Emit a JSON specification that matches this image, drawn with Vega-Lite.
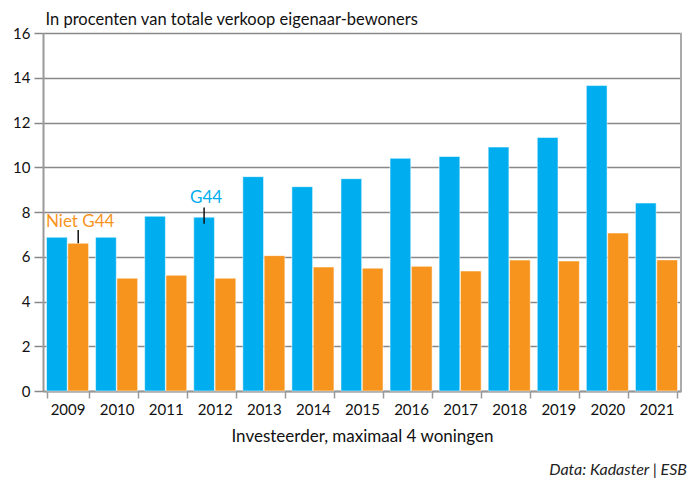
{
  "$schema": "https://vega.github.io/schema/vega-lite/v6.json",
  "width": 638,
  "height": 358,
  "autosize": {"type": "none"},
  "padding": {"left": 43, "top": 33, "right": 14, "bottom": 96},
  "background": "white",
  "config": {
    "font": "Lato",
    "view": {"stroke": null},
    "axis": {"labelFont": "Lato", "titleFont": "Lato", "labelColor": "#111", "titleColor": "#111"}
  },
  "title": {
    "text": "Data: Kadaster | ESB",
    "orient": "bottom",
    "anchor": "end",
    "frame": "group",
    "fontStyle": "italic",
    "fontWeight": "normal",
    "fontSize": 16,
    "color": "#222",
    "offset": 18,
    "dx": 6
  },
  "datasets": {
    "bars": [
      {"year": "2009", "group": "G44", "value": 6.87},
      {"year": "2009", "group": "Niet G44", "value": 6.6},
      {"year": "2010", "group": "G44", "value": 6.87},
      {"year": "2010", "group": "Niet G44", "value": 5.04},
      {"year": "2011", "group": "G44", "value": 7.81},
      {"year": "2011", "group": "Niet G44", "value": 5.17},
      {"year": "2012", "group": "G44", "value": 7.77},
      {"year": "2012", "group": "Niet G44", "value": 5.04},
      {"year": "2013", "group": "G44", "value": 9.58},
      {"year": "2013", "group": "Niet G44", "value": 6.05},
      {"year": "2014", "group": "G44", "value": 9.13},
      {"year": "2014", "group": "Niet G44", "value": 5.54},
      {"year": "2015", "group": "G44", "value": 9.49},
      {"year": "2015", "group": "Niet G44", "value": 5.49},
      {"year": "2016", "group": "G44", "value": 10.4},
      {"year": "2016", "group": "Niet G44", "value": 5.57},
      {"year": "2017", "group": "G44", "value": 10.48},
      {"year": "2017", "group": "Niet G44", "value": 5.36},
      {"year": "2018", "group": "G44", "value": 10.9},
      {"year": "2018", "group": "Niet G44", "value": 5.85},
      {"year": "2019", "group": "G44", "value": 11.33},
      {"year": "2019", "group": "Niet G44", "value": 5.81},
      {"year": "2020", "group": "G44", "value": 13.65},
      {"year": "2020", "group": "Niet G44", "value": 7.06},
      {"year": "2021", "group": "G44", "value": 8.4},
      {"year": "2021", "group": "Niet G44", "value": 5.86}
    ],
    "notes": [
      {"year": "2009", "group": "Niet G44", "label": "Niet G44", "lo": 6.6, "hi": 7.2, "ty": 7.33},
      {"year": "2012", "group": "G44", "label": "G44", "lo": 7.48, "hi": 8.2, "ty": 8.42}
    ]
  },
  "layer": [
    {
      "data": {"name": "bars"},
      "mark": {"type": "bar", "stroke": "white", "strokeWidth": 1, "strokeOpacity": 0.5},
      "encoding": {
        "x": {
          "field": "year", "type": "nominal",
          "scale": {"paddingInner": 0.143, "paddingOuter": 0.0715},
          "axis": {
            "title": "Investeerder, maximaal 4 woningen",
            "titleFontSize": 17, "titleFontWeight": "normal", "titlePadding": 11,
            "labelAngle": 0, "labelFontSize": 15, "labelPadding": 4,
            "tickBand": "extent", "tickSize": 7, "tickColor": "#999", "tickWidth": 1.5,
            "domainColor": "#999", "domainWidth": 2
          }
        },
        "xOffset": {"field": "group", "type": "nominal", "sort": ["G44", "Niet G44"], "scale": {"paddingInner": 0.03}},
        "y": {
          "field": "value", "type": "quantitative",
          "scale": {"domain": [0, 16], "nice": false},
          "axis": {
            "values": [0, 2, 4, 6, 8, 10, 12, 14, 16],
            "title": "In procenten van totale verkoop eigenaar-bewoners",
            "titleAngle": 0, "titleAlign": "left", "titleBaseline": "bottom",
            "titleX": 2, "titleY": -6, "titleFontSize": 16.5, "titleFontWeight": "normal",
            "labelFontSize": 15, "labelPadding": 4,
            "tickSize": 9, "tickColor": "#888", "tickWidth": 1.5,
            "grid": true, "gridColor": "#888", "gridWidth": 1.5,
            "domainColor": "#999", "domainWidth": 2
          }
        },
        "color": {
          "field": "group", "type": "nominal",
          "scale": {"domain": ["G44", "Niet G44"], "range": ["#00AEEF", "#F7941D"]},
          "legend": null
        }
      }
    },
    {
      "data": {"name": "bars"},
      "mark": {"type": "rule", "color": "#aaa", "strokeWidth": 2},
      "encoding": {
        "x": {"value": 638},
        "y": {"datum": 0, "type": "quantitative"},
        "y2": {"datum": 16}
      }
    },
    {
      "data": {"name": "notes"},
      "mark": {"type": "rule", "color": "#111", "strokeWidth": 1.5},
      "encoding": {
        "x": {"field": "year", "type": "nominal"},
        "xOffset": {"field": "group", "type": "nominal", "sort": ["G44", "Niet G44"]},
        "y": {"field": "lo", "type": "quantitative"},
        "y2": {"field": "hi"}
      }
    },
    {
      "data": {"name": "notes"},
      "mark": {"type": "text", "fontSize": 17, "baseline": "alphabetic", "dx": 2},
      "encoding": {
        "x": {"field": "year", "type": "nominal"},
        "xOffset": {"field": "group", "type": "nominal", "sort": ["G44", "Niet G44"]},
        "y": {"field": "ty", "type": "quantitative"},
        "text": {"field": "label"},
        "color": {"field": "group", "type": "nominal", "legend": null}
      }
    }
  ]
}
